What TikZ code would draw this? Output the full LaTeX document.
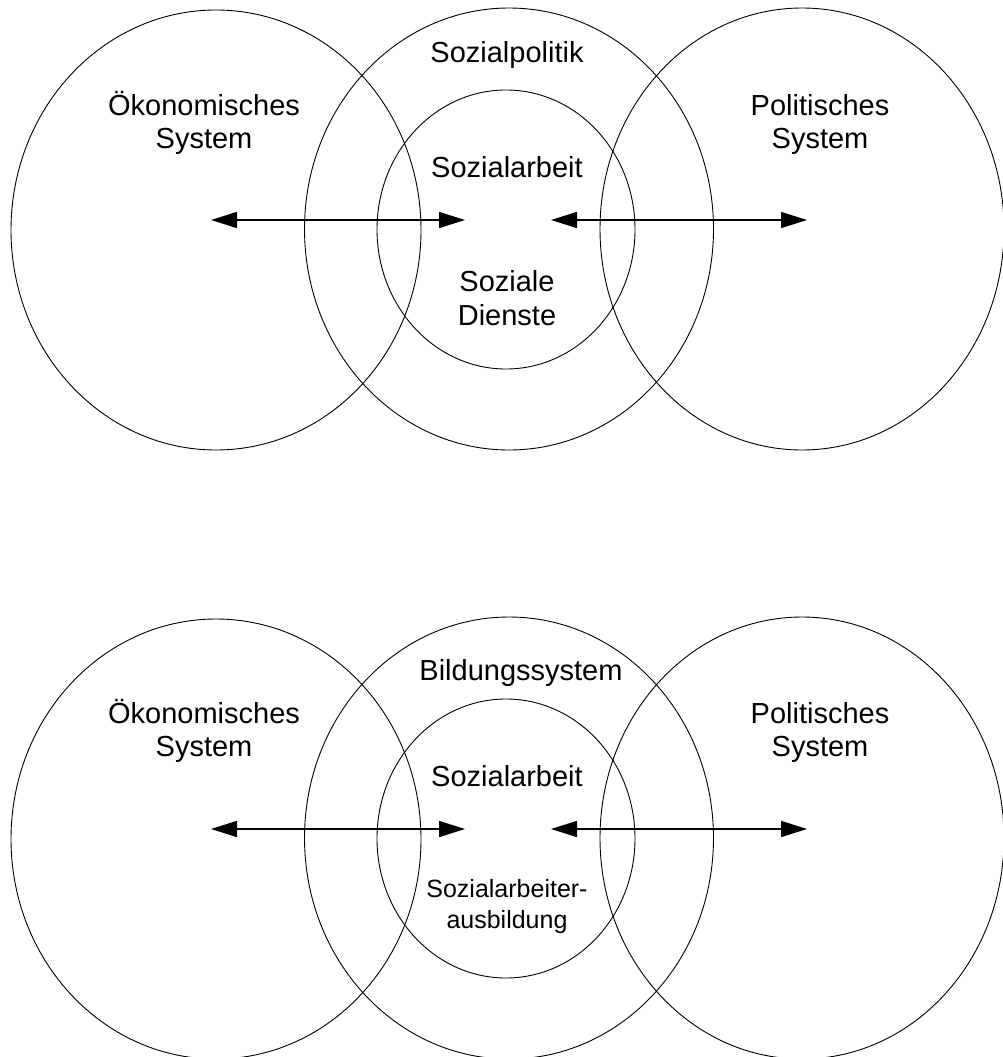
\documentclass[tikz,border=0pt]{standalone}
\usepackage{fontspec}
\setmainfont{Liberation Sans}
\usetikzlibrary{arrows.meta}
\tikzset{
  ring/.style={draw=black, line width=0.9pt},
  lbl/.style={inner sep=0pt, anchor=base, font=\fontsize{29}{34}\selectfont},
  smlbl/.style={inner sep=0pt, anchor=base, font=\fontsize{25}{30}\selectfont},
  link/.style={line width=1.6pt, {Triangle[length=26pt,width=16pt]}-{Triangle[length=26pt,width=16pt]}}
}
\begin{document}
\begin{tikzpicture}[x=1pt,y=-1pt]
\useasboundingbox (0,0) rectangle (1003,1057);
\clip (0,0) rectangle (1003,1057);
% ---------- top diagram ----------
\draw[ring] (216,230) ellipse [x radius=205, y radius=220];
\draw[ring] (509,229) ellipse [x radius=204.5, y radius=221];
\draw[ring] (802,229) ellipse [x radius=202, y radius=221];
\draw[ring] (506,229.5) ellipse [x radius=129, y radius=139.5];
\node[lbl] (t1) at (507,63) {Sozialpolitik};
\node[lbl] (t2a) at (204,115) {Ökonomisches};
\node[lbl] (t2b) at (204,148) {System};
\node[lbl] (t3a) at (820,115) {Politisches};
\node[lbl] (t3b) at (820,148) {System};
\node[lbl] (t4) at (507,177) {Sozialarbeit};
\node[lbl] (t5a) at (507,291) {Soziale};
\node[lbl] (t5b) at (507,325) {Dienste};
\coordinate (aL1) at (211,220);
\coordinate (aL2) at (465,220);
\coordinate (aR1) at (551,220);
\coordinate (aR2) at (807,220);
\draw[link] (aL1) -- (aL2);
\draw[link] (aR1) -- (aR2);
% ---------- bottom diagram ----------
\begin{scope}[yshift=-609pt]
\draw[ring] (216,230) ellipse [x radius=205, y radius=220];
\draw[ring] (509,229) ellipse [x radius=204.5, y radius=221];
\draw[ring] (802,229) ellipse [x radius=202, y radius=221];
\draw[ring] (506,229.5) ellipse [x radius=129, y radius=139.5];
\node[lbl] (b1) at (521,71) {Bildungssystem};
\node[lbl] (b2a) at (204,114) {Ökonomisches};
\node[lbl] (b2b) at (204,147) {System};
\node[lbl] (b3a) at (820,114) {Politisches};
\node[lbl] (b3b) at (820,147) {System};
\node[lbl] (b4) at (507,177) {Sozialarbeit};
\node[smlbl] (b5a) at (507,288) {Sozialarbeiter-};
\node[smlbl] (b5b) at (507,319) {ausbildung};
\coordinate (cL1) at (211,220);
\coordinate (cL2) at (465,220);
\coordinate (cR1) at (551,220);
\coordinate (cR2) at (807,220);
\draw[link] (cL1) -- (cL2);
\draw[link] (cR1) -- (cR2);
\end{scope}
\end{tikzpicture}
\end{document}
